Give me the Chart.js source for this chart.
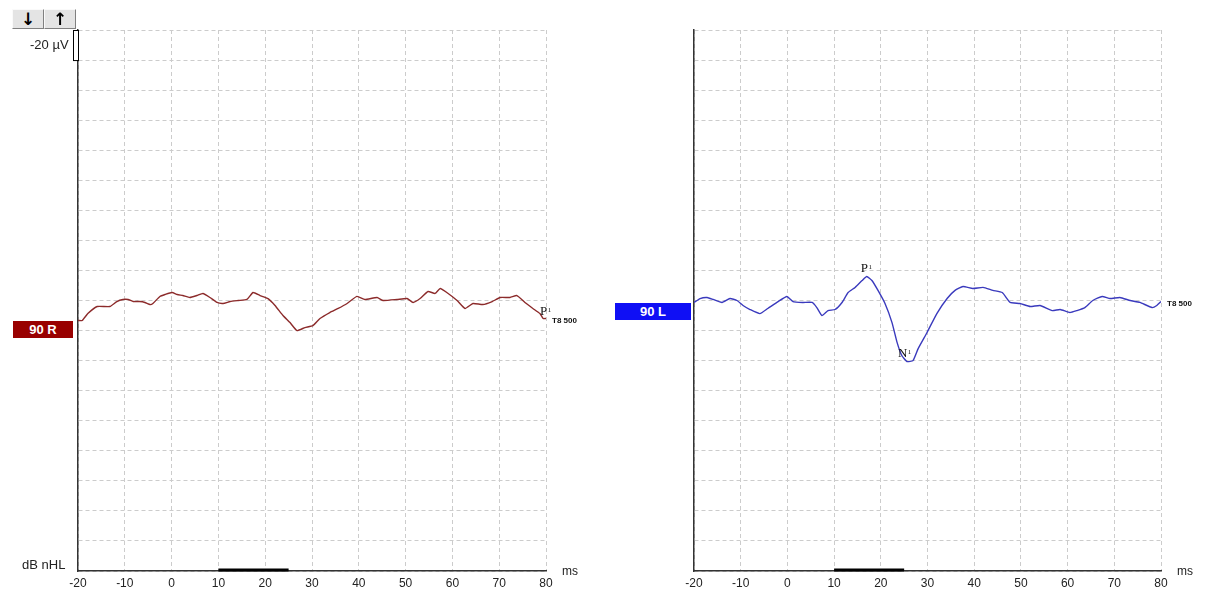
<!DOCTYPE html>
<html>
<head>
<meta charset="utf-8">
<script src="https://cdn.jsdelivr.net/npm/chart.js@4.4.0/dist/chart.umd.min.js"></script>
<style>
  body { margin: 0; background: #fff; width: 1211px; height: 601px; overflow: hidden; position: relative; font-family: "Liberation Sans", Arial, sans-serif; }
  canvas { position: absolute; top: 0; }
  #leftChart { left: 0; }
  #rightChart { left: 605px; }
  .tag { position: absolute; color: #fff; font-weight: bold; font-size: 13px; text-align: center; height: 17px; line-height: 17px; z-index: 2; }
  .btn { position: absolute; top: 9px; width: 30px; height: 18px; background: #e4e4e4; border-top: 1px solid #fafafa; border-left: 1px solid #fafafa; border-right: 1px solid #808080; border-bottom: 1px solid #808080; font-family: "DejaVu Sans", sans-serif; font-weight: bold; font-size: 17px; line-height: 18px; text-align: center; color: #000; }
  .lbl { position: absolute; font-size: 13px; color: #222; }
</style>
</head>
<body>
<canvas id="leftChart" width="605" height="601"></canvas>
<canvas id="rightChart" width="606" height="601"></canvas>

<div class="btn" style="left:12px;">&#8595;</div>
<div class="btn" style="left:44px;">&#8593;</div>
<div class="lbl" style="left:30px; top:37px;">-20 µV</div>
<div class="lbl" style="left:22px; top:557px;">dB nHL</div>
<div class="tag" style="left:13px; top:321px; width:60px; background:#990000;">90 R</div>
<div class="tag" style="left:615px; top:303px; width:76px; background:#0f0ff5;">90 L</div>

<script>
// x: latency in ms, y: amplitude in µV (one grid step = 20 µV)
const xTicks = [-20, -10, 0, 10, 20, 30, 40, 50, 60, 70, 80];
const stimulusRange = [10, 25];

const leftTimes = [-20.0, -19.1, -17.9, -15.9, -13.2, -11.7, -10.4, -9.3, -8.2, -6.8, -5.7, -4.6, -4.0, -2.5, -1.4, 0.1, 1.2, 2.4, 3.9, 5.4, 6.7, 8.2, 9.7, 11.0, 12.5, 14.2, 16.1, 17.4, 18.9, 20.6, 22.1, 23.8, 25.3, 26.8, 28.5, 30.2, 31.7, 33.8, 35.6, 37.5, 39.6, 41.3, 43.9, 45.2, 48.2, 50.3, 51.6, 53.1, 54.8, 56.3, 57.4, 58.8, 61.0, 62.7, 64.4, 66.5, 68.5, 70.2, 72.3, 73.8, 75.5, 77.2, 78.7, 79.4, 80.0];
const leftValues = [-13.3, -13.3, -8.7, -4.0, -4.0, -0.7, 0.7, 0.7, -0.7, -0.7, -1.3, -2.7, -2.0, 2.7, 4.0, 5.3, 4.0, 3.3, 2.0, 3.3, 4.7, 2.0, -1.3, -2.0, -0.7, 0.0, 0.7, 5.3, 3.3, 1.3, -3.3, -10.0, -14.7, -20.0, -18.0, -16.7, -12.0, -8.0, -5.3, -2.0, 2.7, 0.7, 2.0, 0.0, 0.7, 1.3, -1.3, 1.3, 6.0, 4.7, 8.0, 5.3, 0.0, -5.3, -2.0, -2.7, -0.7, 2.0, 2.0, 3.3, -1.3, -5.3, -8.7, -12.0, -12.0];

const rightTimes = [-20.0, -18.7, -17.2, -15.9, -14.0, -12.3, -10.8, -9.5, -8.0, -5.9, -4.2, -2.0, -0.1, 1.2, 3.3, 5.3, 6.3, 7.4, 8.7, 10.2, 11.7, 13.0, 14.5, 16.0, 17.0, 18.1, 19.4, 20.9, 22.4, 23.5, 24.5, 25.6, 26.9, 28.0, 29.9, 32.0, 34.2, 35.9, 37.6, 39.7, 41.9, 44.0, 46.0, 47.7, 49.8, 52.0, 54.1, 56.7, 58.4, 60.5, 62.0, 63.7, 65.4, 67.4, 69.1, 71.2, 73.4, 75.5, 78.1, 79.1, 80.0];
const rightValues = [-1.3, 1.3, 2.0, 0.7, -1.3, 1.3, 0.0, -3.3, -6.0, -8.7, -5.3, -0.7, 2.7, -0.7, -1.3, -1.3, -4.7, -10.0, -6.7, -6.0, -1.3, 5.3, 8.7, 13.3, 16.0, 13.3, 6.7, -2.0, -14.7, -28.0, -36.6, -40.6, -40.0, -32.0, -21.3, -8.7, 1.3, 6.7, 9.3, 8.0, 8.7, 6.7, 5.3, -1.3, -2.0, -4.0, -3.3, -6.7, -6.0, -8.0, -6.7, -4.7, 0.0, 2.7, 1.3, 2.0, 0.0, -1.3, -4.7, -3.3, -0.7];

const leftPeakNames = ['P'];
const leftPeakTimes = [80.0];
const leftPeakValues = [-12.0];
const rightPeakNames = ['P', 'N'];
const rightPeakTimes = [17.0, 25.6];
const rightPeakValues = [16.0, -40.6];

const traceLabel = 'T8 500';

function makeChart(id, times, values, color, yWidth, padRight, peakNames, peakTimes, peakValues, scaleBar) {
  const overlay = {
    id: 'overlay',
    afterDatasetsDraw(chart) {
      const ctx = chart.ctx;
      const xs = chart.scales.x, ys = chart.scales.y;
      const area = chart.chartArea;
      ctx.save();

      // stimulus bar on the time axis
      ctx.fillStyle = '#000';
      const b0 = xs.getPixelForValue(stimulusRange[0]);
      const b1 = xs.getPixelForValue(stimulusRange[1]);
      ctx.fillRect(b0, area.bottom - 2.5, b1 - b0, 3);

      // ms unit
      ctx.fillStyle = '#222';
      ctx.font = '12px "Liberation Sans", Arial';
      ctx.textBaseline = 'middle';
      ctx.fillText('ms', area.right + 16, area.bottom + 1);

      // amplitude scale bar
      if (scaleBar) {
        const top = ys.getPixelForValue(180), bot = ys.getPixelForValue(160);
        ctx.fillStyle = '#fff';
        ctx.fillRect(area.left - 5, top, 5, bot - top);
        ctx.strokeStyle = '#000';
        ctx.lineWidth = 1;
        ctx.strokeRect(area.left - 4.5, top + 0.5, 5, bot - top);
      }

      // trace tag at the end
      const n = times.length - 1;
      const ex = xs.getPixelForValue(times[n]), ey = ys.getPixelForValue(values[n]);
      ctx.fillStyle = '#111';
      ctx.font = 'bold 8px "Liberation Sans", Arial';
      ctx.fillText(traceLabel, ex + 6, ey + 2);

      // peak labels
      peakNames.forEach((name, i) => {
        const px = xs.getPixelForValue(peakTimes[i]);
        const py = ys.getPixelForValue(peakValues[i]);
        ctx.fillStyle = '#111';
        ctx.textBaseline = 'alphabetic';
        ctx.font = '13px "Liberation Serif", "Times New Roman"';
        const w = ctx.measureText(name).width;
        const lx = px - (name === 'N' ? 9 : 6);
        const ly = py - (name === 'N' ? 5 : 4);
        ctx.fillText(name, lx, ly);
        ctx.font = '7px "Liberation Serif", "Times New Roman"';
        ctx.fillText('1', lx + w + 0.5, ly - 3);
      });
      ctx.restore();
    }
  };

  return new Chart(document.getElementById(id), {
    type: 'line',
    data: {
      datasets: [{
        data: times.map((t, i) => ({ x: t, y: values[i] })),
        borderColor: color,
        borderWidth: 1.4,
        pointRadius: 0,
        tension: 0.15,
        fill: false
      }]
    },
    options: {
      responsive: false,
      animation: false,
      layout: { padding: { top: 30, right: padRight, left: 0, bottom: 0 } },
      plugins: { legend: { display: false }, tooltip: { enabled: false } },
      scales: {
        x: {
          type: 'linear',
          min: -20, max: 80,
          afterBuildTicks: s => { s.ticks = xTicks.map(v => ({ value: v })); },
          afterFit: s => { s.height = 30; },
          ticks: { color: '#222', font: { size: 12, family: '"Liberation Sans", Arial' }, padding: 5, maxRotation: 0 },
          grid: { color: '#cccccc', lineWidth: 1, drawTicks: false },
          border: { display: true, color: '#333', width: 1.5, dash: [4, 3] }
        },
        y: {
          min: -180, max: 180,
          ticks: { display: false, stepSize: 20 },
          afterFit: s => { s.width = yWidth; },
          grid: { color: '#cccccc', lineWidth: 1, drawTicks: false },
          border: { display: true, color: '#333', width: 1.5, dash: [4, 3] }
        }
      }
    },
    plugins: [overlay]
  });
}

makeChart('leftChart', leftTimes, leftValues, '#8c2b2b', 78, 59, leftPeakNames, leftPeakTimes, leftPeakValues, true);
makeChart('rightChart', rightTimes, rightValues, '#3a3abd', 89, 50, rightPeakNames, rightPeakTimes, rightPeakValues, false);
</script>
</body>
</html>
